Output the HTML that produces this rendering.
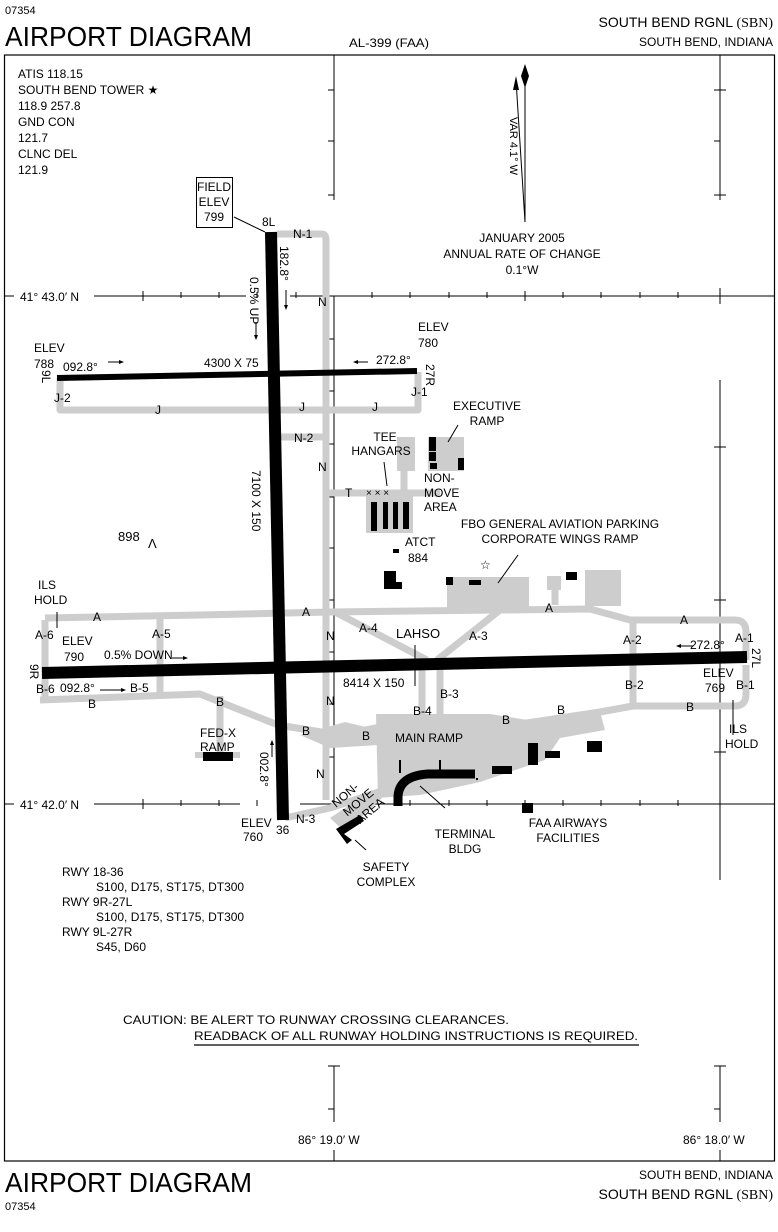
<!DOCTYPE html>
<html><head><meta charset="utf-8"><style>
html,body{margin:0;padding:0;background:#fff;}
svg{display:block;}
text{font-family:"Liberation Sans",sans-serif;fill:#000;}
</style></head><body>
<svg width="778" height="1232" viewBox="0 0 778 1232" xmlns="http://www.w3.org/2000/svg">
<!-- header -->
<text x="5" y="14" font-size="11">07354</text>
<text x="5" y="46" font-size="28" textLength="247" lengthAdjust="spacingAndGlyphs">AIRPORT DIAGRAM</text>
<text x="349" y="47" font-size="12" textLength="80" lengthAdjust="spacingAndGlyphs">AL-399 (FAA)</text>
<text x="773" y="27" font-size="14" text-anchor="end"><tspan>SOUTH BEND RGNL </tspan><tspan font-family="Liberation Serif">(SBN)</tspan></text>
<text x="773" y="46" font-size="12" text-anchor="end">SOUTH BEND, INDIANA</text>

<!-- frame -->
<rect x="4.5" y="55" width="770" height="1106" fill="none" stroke="#000" stroke-width="1.2"/>

<!-- grid -->
<g stroke="#000" stroke-width="1" fill="none">
<line x1="334" y1="55" x2="334" y2="200"/>
<line x1="334" y1="296" x2="334" y2="804"/>
<line x1="334" y1="1066" x2="334" y2="1122"/>
<line x1="334" y1="1150" x2="334" y2="1161"/>
<line x1="720" y1="55" x2="720" y2="200"/>
<line x1="720" y1="380" x2="720" y2="880"/>
<line x1="720" y1="1066" x2="720" y2="1122"/>
<line x1="720" y1="1150" x2="720" y2="1161"/>
<line x1="4" y1="296" x2="14" y2="296"/>
<line x1="94" y1="296" x2="246" y2="296"/>
<line x1="290" y1="296" x2="775" y2="296"/>
<line x1="4" y1="804" x2="14" y2="804"/>
<line x1="94" y1="804" x2="240" y2="804"/>
<line x1="300" y1="804" x2="775" y2="804"/>
<!-- ticks -->
<path d="M328 90h6M328 141h6M328 195h6M714 90h12M714 141h6M714 195h12
M143 291v10M181 292v6M219 292v6M257 292v6M296 292v6M372 292v6M410 292v6M449 292v6M487 292v6M525 291v10M563 292v6M601 292v6M640 292v6M678 292v6M720 288v16
M334 339h-6M334 391h-6M334 444h-6M334 497h-6M334 548h-6M334 600h-6M334 652h-6M334 704h-6M334 757h-6
M714 447h12M714 600h12M714 752h12M714 704h6
M143 799v10M181 800v6M219 800v6M257 800v6M410 800v6M449 800v6M487 800v6M525 800v10M563 800v6M601 800v6M640 800v6M678 800v6
M328 1066h12M328 1109h6M714 1066h12M714 1109h6"/>
</g>

<!-- taxiways (gray) -->
<g stroke="#cdcdcd" stroke-width="7" fill="none" stroke-linejoin="round" stroke-linecap="butt">
<path d="M277 234H322Q326 234 326 240V800"/>
<path d="M60 378V410H418V372"/>
<path d="M280 437H326"/>
<path d="M326 493H440"/>
<path d="M404 470V493"/>
<path d="M45 620V697"/>
<path d="M45 618L200 615L330 612L590 609L630 620H735Q746 620 746 632V660"/>
<path d="M160 618V695"/>
<path d="M335 612L427 660"/>
<path d="M500 610L437 660"/>
<path d="M633 620V706"/>
<path d="M40 700L200 694L278 725L340 735L380 727"/>
<path d="M220 696V760"/>
<path d="M422 668V725"/>
<path d="M440 668V725"/>
<path d="M480 730L600 712L633 706H735Q746 706 746 694V665"/>
<path d="M285 818L330 808L385 790"/>
<path d="M555 605V580"/>
</g>
<g fill="#cdcdcd">
<rect x="397" y="437" width="18" height="34"/>
<rect x="428" y="437" width="36" height="34"/>
<rect x="366" y="492" width="47" height="41"/>
<rect x="447" y="577" width="82" height="32"/>
<rect x="585" y="570" width="36" height="36"/>
<rect x="547" y="576" width="14" height="14"/>
<path d="M376 714H490L540 722L600 712L605 730L560 738L545 760L480 782L420 795L378 798Z"/>
<rect x="195" y="752" width="45" height="6"/>
<path d="M330 818L372 790L382 798L345 832Z"/>
<path d="M300 735L345 722L378 730L378 745L330 748Z"/>
</g>

<!-- runways -->
<g stroke="#000" fill="none">
<line x1="42" y1="673" x2="747" y2="657" stroke-width="12"/>
<line x1="271" y1="232" x2="283" y2="820" stroke-width="12"/>
<line x1="57" y1="378" x2="417" y2="371" stroke-width="6"/>
</g>

<!-- buildings -->
<g fill="#000">
<rect x="371" y="502" width="6" height="29"/><rect x="383" y="502" width="5" height="27"/>
<rect x="393" y="502" width="5" height="27"/><rect x="403" y="502" width="6" height="27"/>
<rect x="429" y="437" width="7" height="14"/><rect x="429" y="452" width="7" height="9"/><rect x="430" y="463" width="7" height="6"/>
<rect x="458" y="458" width="6" height="12"/>
<rect x="393" y="549" width="6" height="4"/>
<rect x="384" y="571" width="12" height="18"/><rect x="394" y="582" width="8" height="7"/>
<rect x="446" y="577" width="7" height="8"/><rect x="469" y="580" width="12" height="5"/>
<rect x="566" y="572" width="11" height="8"/>
<rect x="528" y="743" width="10" height="22"/><rect x="545" y="751" width="15" height="7"/>
<rect x="492" y="766" width="20" height="8"/><rect x="587" y="741" width="15" height="11"/>
<rect x="522" y="803" width="11" height="10"/>
<rect x="203" y="752" width="30" height="9"/>
<path d="M336 829L360 815L364 821L344 834L352 840L347 844Z"/>
</g>
<path d="M398 806V798Q398 776 428 774H475" stroke="#000" stroke-width="9" fill="none"/>
<path d="M440 774V760M400 773V760M476 779H478" stroke="#000" stroke-width="2" fill="none"/>

<!-- misc lines -->
<g stroke="#000" stroke-width="1" fill="none">
<rect x="196.5" y="177.5" width="36" height="50" fill="#fff"/>
<path d="M234 217L265 232"/>
<path d="M57 612V628M733 700V735M415 645V686"/>
<path d="M384 462L387 486M448 442L458 425M498 583L518 555M420 786L445 808M355 840L366 850"/>
<path d="M286 290V307M256 322V338M272 757V742M108 362H122M355 362H368M693 646H678M100 690H122M172 658H184"/>
<path d="M525 222V66M525 222L516 80"/>
</g>
<g fill="#000">
<path d="M525 64L529 76L525 88L521 76Z"/>
<path d="M516 76L519 90L513 90Z"/>
<path d="M286 310l-2-5h4zM256 340l-2-5h4zM272 740l-2 5h4zM124 362l-5-2v4zM353 362l5-2v4zM676 646l5-2v4zM126 690l-5-2v4zM188 658l-5-2v4z"/>
</g>

<!-- texts -->
<g font-size="12">
<text x="18" y="78">ATIS 118.15</text>
<text x="18" y="94">SOUTH BEND TOWER ★</text>
<text x="18" y="110">118.9  257.8</text>
<text x="18" y="126">GND CON</text>
<text x="18" y="142">121.7</text>
<text x="18" y="158">CLNC DEL</text>
<text x="18" y="174">121.9</text>
<text x="214" y="191" text-anchor="middle">FIELD</text>
<text x="214" y="206" text-anchor="middle">ELEV</text>
<text x="214" y="221" text-anchor="middle">799</text>
<text x="522" y="242" text-anchor="middle">JANUARY 2005</text>
<text x="522" y="258" text-anchor="middle">ANNUAL RATE OF CHANGE</text>
<text x="522" y="274" text-anchor="middle">0.1°W</text>
<text font-size="11" transform="translate(510,117) rotate(90)">VAR 4.1° W</text>
<text x="20" y="301">41° 43.0′ N</text>
<text x="20" y="809">41° 42.0′ N</text>
<text x="34" y="352">ELEV</text><text x="34" y="368">788</text>
<text x="63" y="371">092.8°</text>
<text x="204" y="367">4300 X 75</text>
<text x="376" y="364">272.8°</text>
<text x="418" y="331">ELEV</text><text x="418" y="347">780</text>
<text transform="translate(426,364) rotate(90)">27R</text>
<text transform="translate(42,370) rotate(90)">9L</text>
<text x="262" y="226" font-size="12">8L</text>
<text x="54" y="402">J-2</text><text x="155" y="414">J</text><text x="299" y="411">J</text><text x="372" y="411">J</text><text x="411" y="396">J-1</text>
<text x="293" y="238">N-1</text>
<text transform="translate(280,246) rotate(90)">182.8°</text>
<text transform="translate(250,277) rotate(90)">0.5% UP</text>
<text transform="translate(252,470) rotate(90)">7100 X 150</text>
<text x="294" y="442">N-2</text>
<text x="318" y="306">N</text><text x="318" y="471">N</text><text x="326" y="640">N</text><text x="326" y="705">N</text><text x="316" y="778">N</text>
<text x="385" y="441" text-anchor="middle">TEE</text><text x="381" y="455" text-anchor="middle">HANGARS</text>
<text x="487" y="410" text-anchor="middle">EXECUTIVE</text><text x="487" y="425" text-anchor="middle">RAMP</text>
<text x="424" y="482">NON-</text><text x="424" y="497">MOVE</text><text x="424" y="511">AREA</text>
<text x="345" y="497">T</text>
<text x="366" y="496" font-size="10">×  ×  ×</text>
<text x="118" y="541" font-size="13">898</text><text x="148" y="548" font-size="13">Λ</text>
<text x="405" y="546">ATCT</text><text x="408" y="562">884</text>
<text x="560" y="528" text-anchor="middle">FBO GENERAL AVIATION PARKING</text>
<text x="560" y="543" text-anchor="middle">CORPORATE WINGS RAMP</text>
<text x="480" y="569" font-size="12">☆</text>
<text x="38" y="589">ILS</text><text x="34" y="604">HOLD</text>
<text x="93" y="621">A</text><text x="35" y="639">A-6</text>
<text x="62" y="645">ELEV</text><text x="64" y="661">790</text>
<text x="152" y="638">A-5</text>
<text x="104" y="659">0.5% DOWN</text>
<text x="302" y="616">A</text><text x="359" y="632">A-4</text>
<text x="396" y="638" font-size="13">LAHSO</text>
<text x="469" y="640">A-3</text><text x="545" y="612">A</text>
<text x="623" y="644">A-2</text><text x="690" y="649">272.8°</text>
<text x="680" y="624">A</text><text x="735" y="642">A-1</text>
<text transform="translate(752,648) rotate(90)">27L</text>
<text transform="translate(30,664) rotate(90)">9R</text>
<text x="36" y="693">B-6</text><text x="60" y="692">092.8°</text><text x="130" y="692">B-5</text>
<text x="88" y="708">B</text><text x="216" y="706">B</text><text x="302" y="735">B</text><text x="362" y="740">B</text>
<text x="343" y="687">8414 X 150</text>
<text x="440" y="698">B-3</text><text x="413" y="715">B-4</text>
<text x="502" y="724">B</text><text x="557" y="714">B</text><text x="686" y="711">B</text>
<text x="625" y="689">B-2</text>
<text x="703" y="677">ELEV</text><text x="705" y="692">769</text>
<text x="736" y="689">B-1</text>
<text x="729" y="733">ILS</text><text x="725" y="748">HOLD</text>
<text x="200" y="737">FED-X</text><text x="200" y="751">RAMP</text>
<text transform="translate(260,752) rotate(90)">002.8°</text>
<text x="395" y="742">MAIN RAMP</text>
<text x="241" y="827">ELEV</text><text x="243" y="841">760</text>
<text x="276" y="834">36</text><text x="296" y="823">N-3</text>
<g transform="translate(336,808) rotate(-40)"><text x="0" y="0">NON-</text><text x="3" y="14">MOVE</text><text x="8" y="28">AREA</text></g>
<text x="386" y="871" text-anchor="middle">SAFETY</text><text x="386" y="886" text-anchor="middle">COMPLEX</text>
<text x="465" y="838" text-anchor="middle">TERMINAL</text><text x="465" y="853" text-anchor="middle">BLDG</text>
<text x="568" y="827" text-anchor="middle">FAA AIRWAYS</text><text x="568" y="842" text-anchor="middle">FACILITIES</text>
<text x="62" y="876">RWY  18-36</text>
<text x="96" y="891">S100, D175, ST175, DT300</text>
<text x="62" y="906">RWY  9R-27L</text>
<text x="96" y="921">S100, D175, ST175, DT300</text>
<text x="62" y="936">RWY  9L-27R</text>
<text x="96" y="951">S45, D60</text>
<text x="123" y="1024" textLength="386" lengthAdjust="spacingAndGlyphs">CAUTION: BE ALERT TO RUNWAY CROSSING CLEARANCES.</text>
<text x="194" y="1040" textLength="444" lengthAdjust="spacingAndGlyphs">READBACK OF ALL RUNWAY HOLDING INSTRUCTIONS IS REQUIRED.</text>
<text x="298" y="1144">86° 19.0′ W</text>
<text x="683" y="1144">86° 18.0′ W</text>
</g>
<line x1="194" y1="1045" x2="639" y2="1045" stroke="#000" stroke-width="1.2"/>

<!-- footer -->
<text x="5" y="1192" font-size="28" textLength="247" lengthAdjust="spacingAndGlyphs">AIRPORT DIAGRAM</text>
<text x="5" y="1210" font-size="11">07354</text>
<text x="773" y="1179" font-size="12" text-anchor="end">SOUTH BEND, INDIANA</text>
<text x="773" y="1199" font-size="14" text-anchor="end"><tspan>SOUTH BEND RGNL </tspan><tspan font-family="Liberation Serif">(SBN)</tspan></text>
</svg>
</body></html>
